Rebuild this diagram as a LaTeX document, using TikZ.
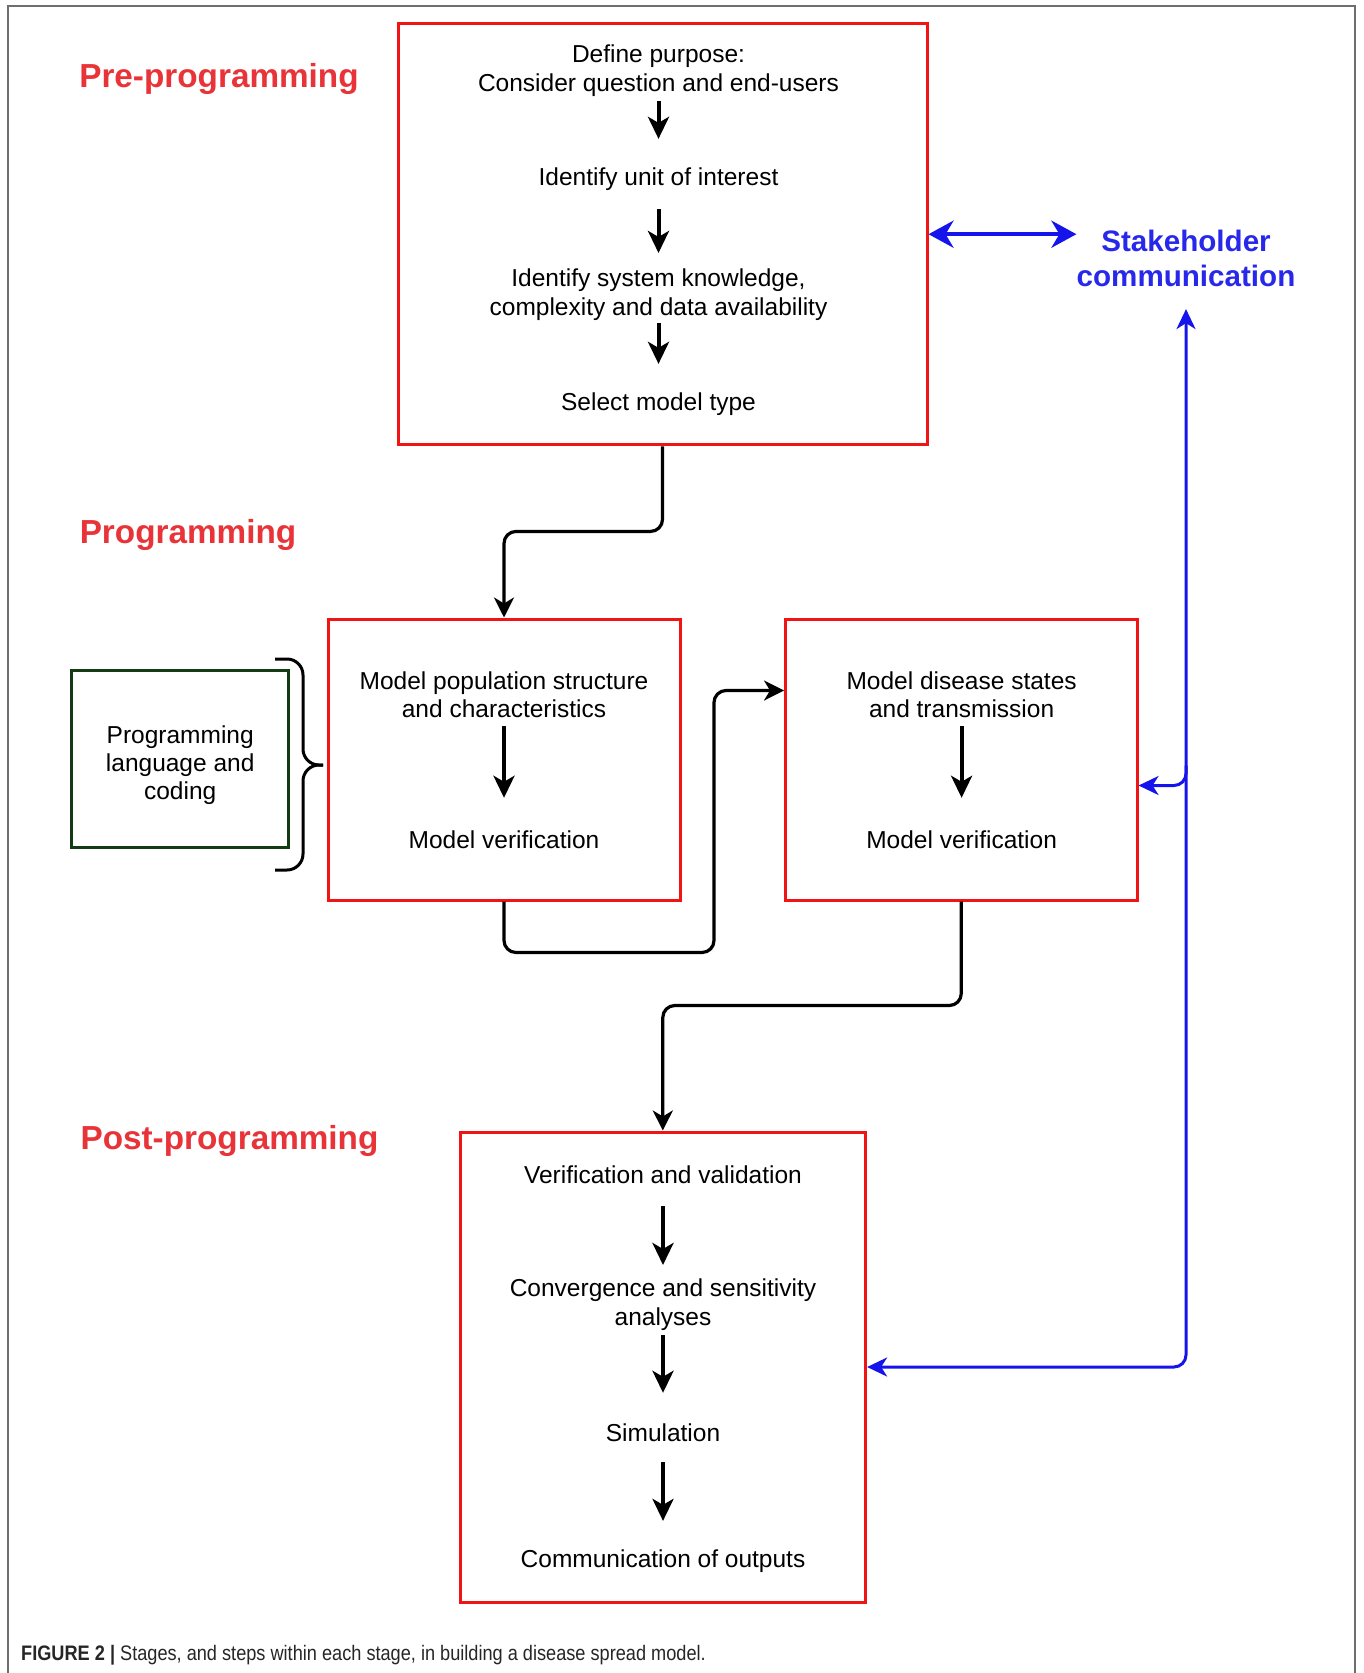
\documentclass[tikz,border=0pt]{standalone}
\usepackage{fontspec}
\setmainfont{Liberation Sans}
\usetikzlibrary{arrows.meta,calc}

\definecolor{boxred}{RGB}{240,20,20}
\definecolor{labelred}{RGB}{232,52,56}
\definecolor{stkblue}{RGB}{20,20,235}
\definecolor{stktext}{RGB}{40,40,235}
\definecolor{langgreen}{RGB}{20,60,20}
\definecolor{framegray}{RGB}{110,110,110}

\tikzset{
  stagebox/.style={draw=boxred, line width=3pt, inner sep=0pt},
  langbox/.style={draw=langgreen, line width=3pt, inner sep=0pt},
  steptext/.style={inner sep=0pt, align=center, font=\fontsize{24.5pt}{28.8pt}\selectfont},
  stagelabel/.style={inner sep=0pt, text=labelred, font=\fontsize{33.3pt}{38pt}\selectfont\bfseries},
  stklabel/.style={inner sep=0pt, align=center, text=stktext, font=\fontsize{29.6pt}{35pt}\selectfont\bfseries},
  steparrow/.style={line width=4pt, -{Stealth[length=22pt, width=21pt, inset=6pt]}},
  flow/.style={line width=3.2pt, rounded corners=12pt, -{Stealth[length=20pt, width=20pt, inset=6pt]}},
  stkline/.style={draw=stkblue, line width=3pt, rounded corners=12pt},
  stktip/.tip={Stealth[length=20pt, width=19pt, inset=6pt]},
  stkbig/.tip={Stealth[length=25pt, width=27pt, inset=8pt]},
  bracepen/.style={line width=3pt, rounded corners=16pt},
}

\begin{document}
\begin{tikzpicture}[x=1pt, y=-1pt]
\useasboundingbox (0,0) rectangle (1363,1673);

% Frame
\draw[framegray, line width=2pt] (8,1673) -- (8,6) -- (1355,6) -- (1355,1673);

% Stage boxes
\node[stagebox, minimum width=529pt, minimum height=421.5pt] (pre) at (662.5,234.2) {};
\node[stagebox, minimum width=352pt, minimum height=281pt] (popbox) at (504,759.5) {};
\node[stagebox, minimum width=351.5pt, minimum height=281pt] (disbox) at (961.3,759.5) {};
\node[stagebox, minimum width=405.6pt, minimum height=470pt] (post) at (662.8,1367) {};
\node[langbox, minimum width=217.5pt, minimum height=176.5pt] (lang) at (180.2,759.2) {};
\node[steptext, font=\fontsize{24.5pt}{28pt}\selectfont] (langtext) at (180.2,765) {Programming\\language and\\coding};

% Stage labels
\node[stagelabel] (prelab) at (219,79) {Pre-programming};
\node[stagelabel] (proglab) at (188,534.5) {Programming};
\node[stagelabel] (postlab) at (229.5,1141) {Post-programming};
\node[stklabel] (stake) at (1186,258.5) {Stakeholder\\communication};

% Steps, pre-programming
\node[steptext] (purpose) at (658.5,70.8) {Define purpose:\\Consider question and end-users};
\node[steptext] (unit) at (658.5,179) {Identify unit of interest};
\node[steptext] (know) at (658.5,295) {Identify system knowledge,\\complexity and data availability};
\node[steptext] (mtype) at (658.5,404) {Select model type};
\draw[steparrow, shorten <=4pt, shorten >=28.5pt] (purpose) -- (unit);
\draw[steparrow, shorten <=18.5pt, shorten >=16pt] (unit) -- (know);
\draw[steparrow, shorten <=2pt, shorten >=28.5pt] (know) -- (mtype);

% Steps, programming
\node[steptext] (pop) at (504,694.8) {Model population structure\\and characteristics};
\node[steptext] (popver) at (504,840) {Model verification};
\node[steptext] (dis) at (961.6,694.8) {Model disease states\\and transmission};
\node[steptext] (disver) at (961.6,840) {Model verification};
\draw[steparrow, shorten <=8pt, shorten >=33pt] (pop) -- (popver);
\draw[steparrow, shorten <=8pt, shorten >=33pt] (dis) -- (disver);

% Steps, post-programming
\node[steptext] (valid) at (663,1175) {Verification and validation};
\node[steptext] (conv) at (663,1305) {Convergence and sensitivity\\analyses};
\node[steptext] (sim) at (663,1433) {Simulation};
\node[steptext] (outp) at (663,1561) {Communication of outputs};
\draw[steparrow, shorten <=22pt, shorten >=14pt] (valid) -- (conv);
\draw[steparrow, shorten <=4pt, shorten >=31pt] (conv) -- (sim);
\draw[steparrow, shorten <=20pt, shorten >=28.5pt] (sim) -- (outp);

% Brace
\draw[bracepen] (275,659) -| (303,765) -- (323,765);
\draw[bracepen] (275,870) -| (303,765) -- (323,765);

% Flow between stages
\draw[flow] (pre.south) -- ++(0,85) -| (popbox.north);
\draw[flow] (popbox.south) -- ++(0,51) -- ++(210,0) |- ([yshift=69pt]disbox.west);
\draw[flow] (disbox.south) -- ++(0,104) -| (post.north);

% Stakeholder communication
\coordinate (brk) at (1186,785.5);
\draw[stkline, line width=4.5pt, {stkbig}-{stkbig}] (pre.east) -- (pre.east -| stake.west);
\draw[stkline, {stktip}-{stktip}, shorten >=22pt] (post.east) -| (stake.south);
\draw[stkline, -{stktip}] ([yshift=20pt]brk) |- (disbox.east |- brk);

% Caption
\node[anchor=west, inner sep=0pt, text=black!85] (cap) at (21,1655) {\fontsize{21pt}{25pt}\selectfont\scalebox{0.865}[1]{\textbf{FIGURE 2 |} Stages, and steps within each stage, in building a disease spread model.}};
\end{tikzpicture}
\end{document}
